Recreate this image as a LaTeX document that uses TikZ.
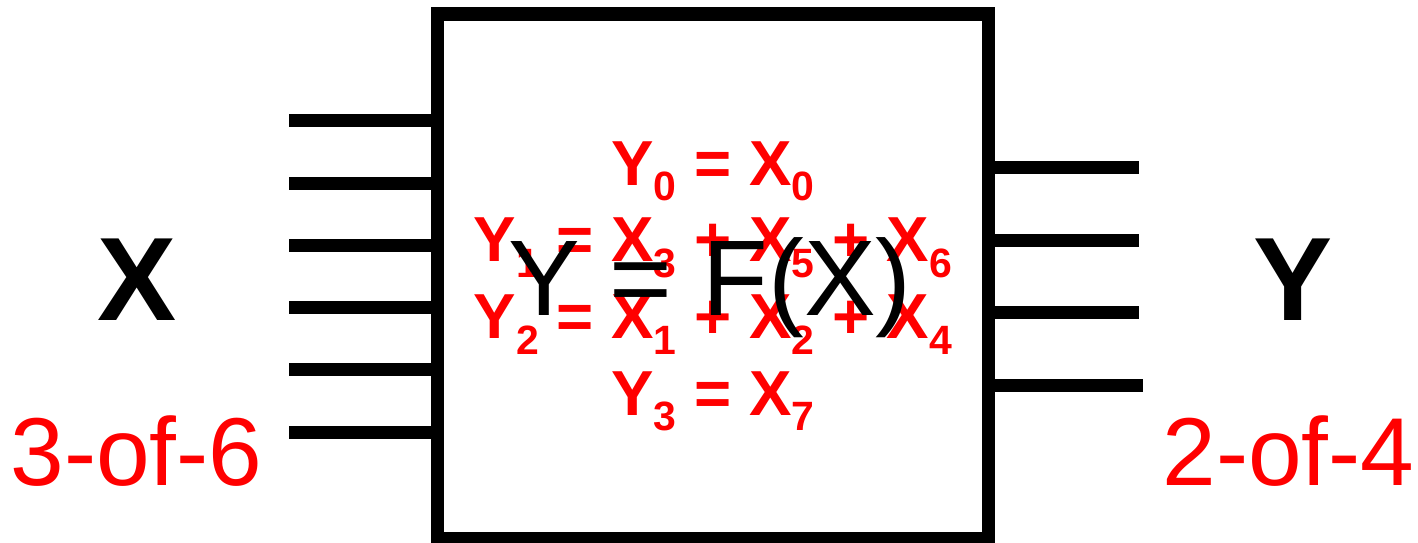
\documentclass[tikz,border=0pt]{standalone}
\usepackage{fontspec}
\setmainfont{Liberation Sans}
\usepackage{xcolor}
\newcommand{\lowsub}[1]{\raisebox{-9.1pt}{\fontsize{23.3}{24}\selectfont #1}}

\begin{document}
\begin{tikzpicture}[line cap=butt,
    lead/.style={line width=7.4pt},
    chip/.style={draw, line width=7.4pt, minimum width=11.014cm, minimum height=10.494cm, inner sep=0pt},
    bigletter/.style={anchor=base, inner sep=0pt, font=\fontsize{67.5}{70}\selectfont\bfseries},
    code/.style={anchor=base, inner sep=0pt, text=red, font=\fontsize{54.9}{58}\selectfont},
    eqn/.style={anchor=base, inner sep=0pt, text=red, font=\fontsize{36.2}{38}\selectfont\bfseries},
    func/.style={anchor=base, inner sep=0pt, font=\fontsize{61.2}{64}\selectfont}]
  \useasboundingbox (0,0) rectangle (28.36,10.84);

  % The block
  \node[chip] (box) at (14.253,5.313) {};

  % Inputs and outputs
  \foreach \y in {8.426,7.18,5.934,4.688,3.442,2.196}
    \draw[lead] (5.78,\y) -- (box.west |- 0,\y);
  \foreach \y in {7.494,6.038,4.582}
    \draw[lead] (box.east |- 0,\y) -- (22.78,\y);
  \draw[lead] (19.9,3.126) -- (22.85,3.126);

  % Side labels
  \node[bigletter] (xin) at (2.74,4.44) {X};
  \node[bigletter] (yout) at (25.86,4.44) {Y};
  \node[code] (xcode) at (2.73,1.14) {3-of-6};
  \node[code] (ycode) at (25.77,1.14) {2-of-4};

  % Mapping inside the block
  \node[eqn] (eq0) at (14.26,7.14) {Y\lowsub{0} = X\lowsub{0}};
  \node[eqn] (eq1) at (14.26,5.606) {Y\lowsub{1} = X\lowsub{3} + X\lowsub{5} + X\lowsub{6}};
  \node[eqn] (eq2) at (14.26,4.074) {Y\lowsub{2} = X\lowsub{1} + X\lowsub{2} + X\lowsub{4}};
  \node[eqn] (eq3) at (14.26,2.54) {Y\lowsub{3} = X\lowsub{7}};
  \node[func] (fx) at (14.2,4.54) {Y = F(X)};
\end{tikzpicture}
\end{document}
